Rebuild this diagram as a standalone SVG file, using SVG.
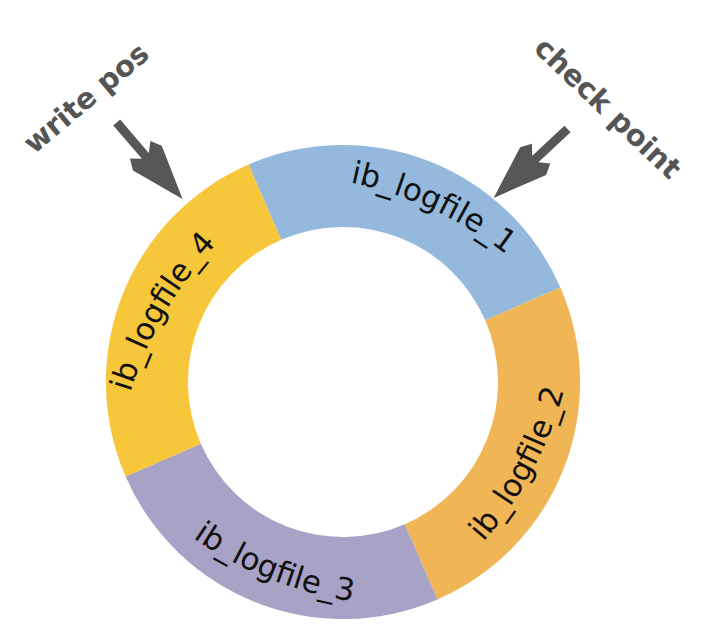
<svg xmlns="http://www.w3.org/2000/svg" xmlns:xlink="http://www.w3.org/1999/xlink" width="716" height="644" viewBox="0 0 716 644">
  <style>
    .seg-label { font-family: "DejaVu Sans", "Noto Sans", sans-serif; font-size: 31px; fill: #111111; }
    .ptr-label { font-family: "DejaVu Sans", "Noto Sans", sans-serif; font-size: 29px; font-weight: bold; fill: #555555; }
    .ptr { fill: #575757; }
  </style>
  <defs>
    <path id="p1" d="M343,181 A380,380 0 0 1 512,259"/>
    <path id="p2" d="M475,551 A380,380 0 0 0 567,378"/>
    <path id="p3" d="M182,530 A380,380 0 0 0 366,603"/>
    <path id="p4" d="M128,400 A380,380 0 0 1 222,238"/>
    <polygon id="arrowShape" points="0,-4.5 44,-4.5 36,-13.5 47,-19 101,0 47,19 36,13.5 44,4.5 0,4.5"/>
  </defs>
  <rect width="716" height="644" fill="#ffffff"/>

  <g id="ib_logfile_1">
    <path d="M248.5,164.6 A237,237 0 0 1 560.4,287.5 L485.2,320.2 A155,155 0 0 0 281.2,239.8 Z" fill="#94b9dc"/>
    <text class="seg-label"><textPath xlink:href="#p1" href="#p1" startOffset="50%" text-anchor="middle">ib_logfile_1</textPath></text>
  </g>
  <g id="ib_logfile_2">
    <path d="M560.4,287.5 A237,237 0 0 1 437.5,599.4 L404.8,524.2 A155,155 0 0 0 485.2,320.2 Z" fill="#f0b555"/>
    <text class="seg-label"><textPath xlink:href="#p2" href="#p2" startOffset="50%" text-anchor="middle">ib_logfile_2</textPath></text>
  </g>
  <g id="ib_logfile_3">
    <path d="M437.5,599.4 A237,237 0 0 1 125.6,476.5 L200.8,443.8 A155,155 0 0 0 404.8,524.2 Z" fill="#a8a2c6"/>
    <text class="seg-label"><textPath xlink:href="#p3" href="#p3" startOffset="50%" text-anchor="middle">ib_logfile_3</textPath></text>
  </g>
  <g id="ib_logfile_4">
    <path d="M125.6,476.5 A237,237 0 0 1 248.5,164.6 L281.2,239.8 A155,155 0 0 0 200.8,443.8 Z" fill="#f6c63b"/>
    <text class="seg-label"><textPath xlink:href="#p4" href="#p4" startOffset="50%" text-anchor="middle">ib_logfile_4</textPath></text>
  </g>

  <g id="write_pos">
    <text class="ptr-label" transform="translate(86,98) rotate(-40)" text-anchor="middle" dy="0.35em">write pos</text>
  </g>
  <g id="check_point">
    <text class="ptr-label" transform="translate(608,108) rotate(43.6)" text-anchor="middle" dy="0.35em">check point</text>
  </g>

  <g id="connectors">
    <use href="#arrowShape" xlink:href="#arrowShape" class="ptr" transform="translate(116.7,122.5) rotate(49.3)"/>
    <use href="#arrowShape" xlink:href="#arrowShape" class="ptr" transform="translate(567.5,129) rotate(137)"/>
  </g>
</svg>
